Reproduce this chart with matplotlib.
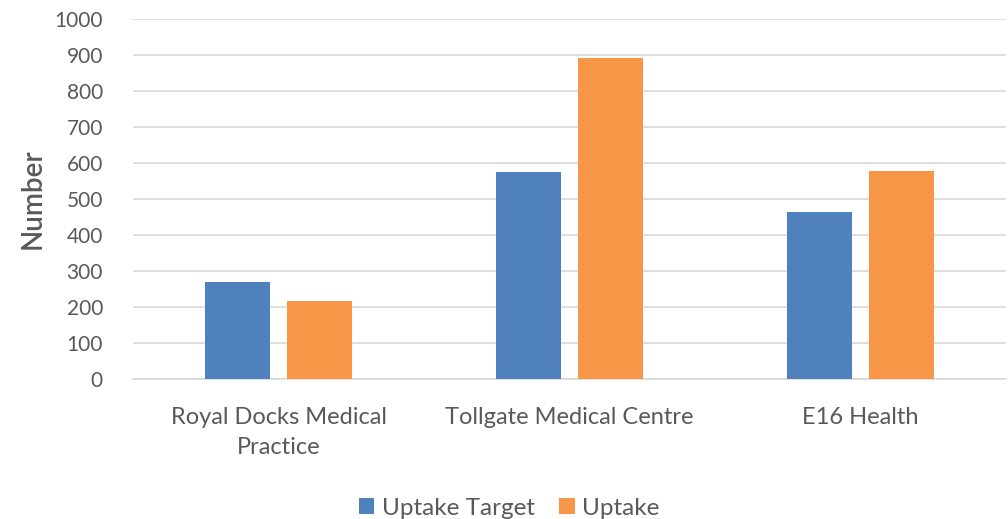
import matplotlib.pyplot as plt
import numpy as np

categories = ['Royal Docks Medical\nPractice', 'Tollgate Medical Centre', 'E16 Health']
uptake_target = [270, 575, 463]
uptake = [217, 893, 577]
y_ticks = list(range(0, 1001, 100))

plt.rcParams['font.family'] = ['Lato', 'DejaVu Sans']
grey = '#595959'

fig = plt.figure(figsize=(10.08, 5.19), dpi=100)
ax = fig.add_axes([0.1324, 0.2697, 0.8656, 0.6937])

x = np.arange(len(categories))
w = 0.223
off = 0.141
ax.bar(x - off, uptake_target, w, color='#4F81BD', label='Uptake Target', zorder=3)
ax.bar(x + off, uptake, w, color='#F79646', label='Uptake', zorder=3)

ax.set_xlim(-0.5, 2.5)
ax.set_ylim(0, 1000)
ax.set_yticks(y_ticks)
ax.yaxis.grid(True, color='#d9d9d9', linewidth=1.2, zorder=0)
for s in ['top', 'right', 'left']:
    ax.spines[s].set_visible(False)
ax.spines['bottom'].set_color('#d9d9d9')
ax.spines['bottom'].set_linewidth(1.2)
ax.tick_params(axis='both', length=0, labelcolor=grey)
ax.tick_params(axis='y', pad=22, labelsize=15)
ax.tick_params(axis='x', pad=20, labelsize=17)
ax.set_xticks(x)
ax.set_xticklabels(categories, linespacing=1.55)
ax.set_ylabel('Number', fontsize=20, color=grey, labelpad=6, fontweight='semibold')

fig.legend(loc='lower center', bbox_to_anchor=(0.505, -0.042), ncol=2, frameon=False,
           fontsize=17.5, labelcolor=grey, handlelength=0.65, handleheight=0.65,
           handletextpad=0.3, columnspacing=1.0)

fig.savefig('out.png', dpi=100)
